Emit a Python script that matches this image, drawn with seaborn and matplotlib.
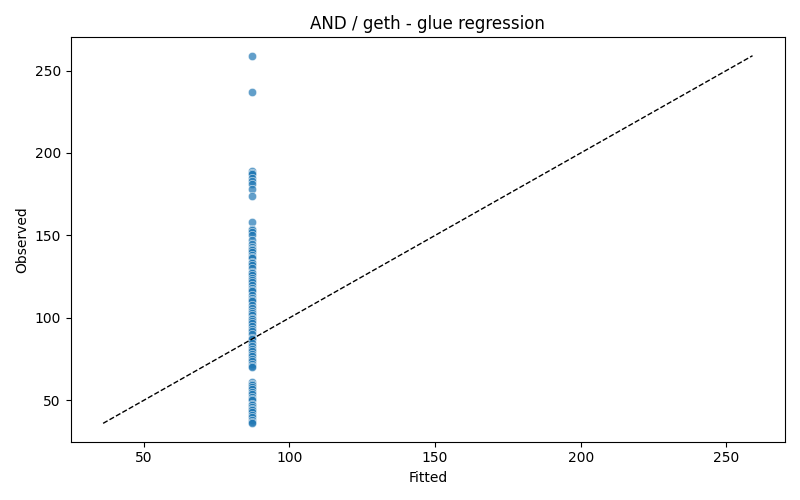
import matplotlib
matplotlib.use("Agg")
import matplotlib.pyplot as plt
import pandas as pd
import seaborn as sns

observed = [259, 237, 189, 188, 187, 185, 183, 181, 178, 174,
            158, 154, 153, 152, 150, 147, 145, 143, 142, 141, 140, 138, 137, 136, 134, 133,
            132, 130, 128, 127, 126, 124, 123, 122, 120, 118, 117, 116, 114, 112, 111, 110,
            108, 106, 104, 103, 102, 100, 99, 98, 97, 95, 93, 92, 90, 88, 87, 85, 83, 81,
            80, 78, 77, 75, 74, 72, 71, 70,
            61, 60, 59, 58, 57, 55, 54, 52, 51, 50, 48, 47, 46, 45, 44, 43, 41, 40, 38, 37, 36]
fitted = [87.0] * len(observed)

df = pd.DataFrame({"Fitted": fitted, "Observed": observed})

fig, ax = plt.subplots(figsize=(8, 5), dpi=100)
sns.scatterplot(data=df, x="Fitted", y="Observed", ax=ax, alpha=0.7, color="#1f77b4")
lo = min(df["Fitted"].min(), df["Observed"].min())
hi = max(df["Fitted"].max(), df["Observed"].max())
ax.plot([lo, hi], [lo, hi], "k--", linewidth=1)
ax.set_title("AND / geth - glue regression")
plt.tight_layout()
plt.savefig("out.png")
